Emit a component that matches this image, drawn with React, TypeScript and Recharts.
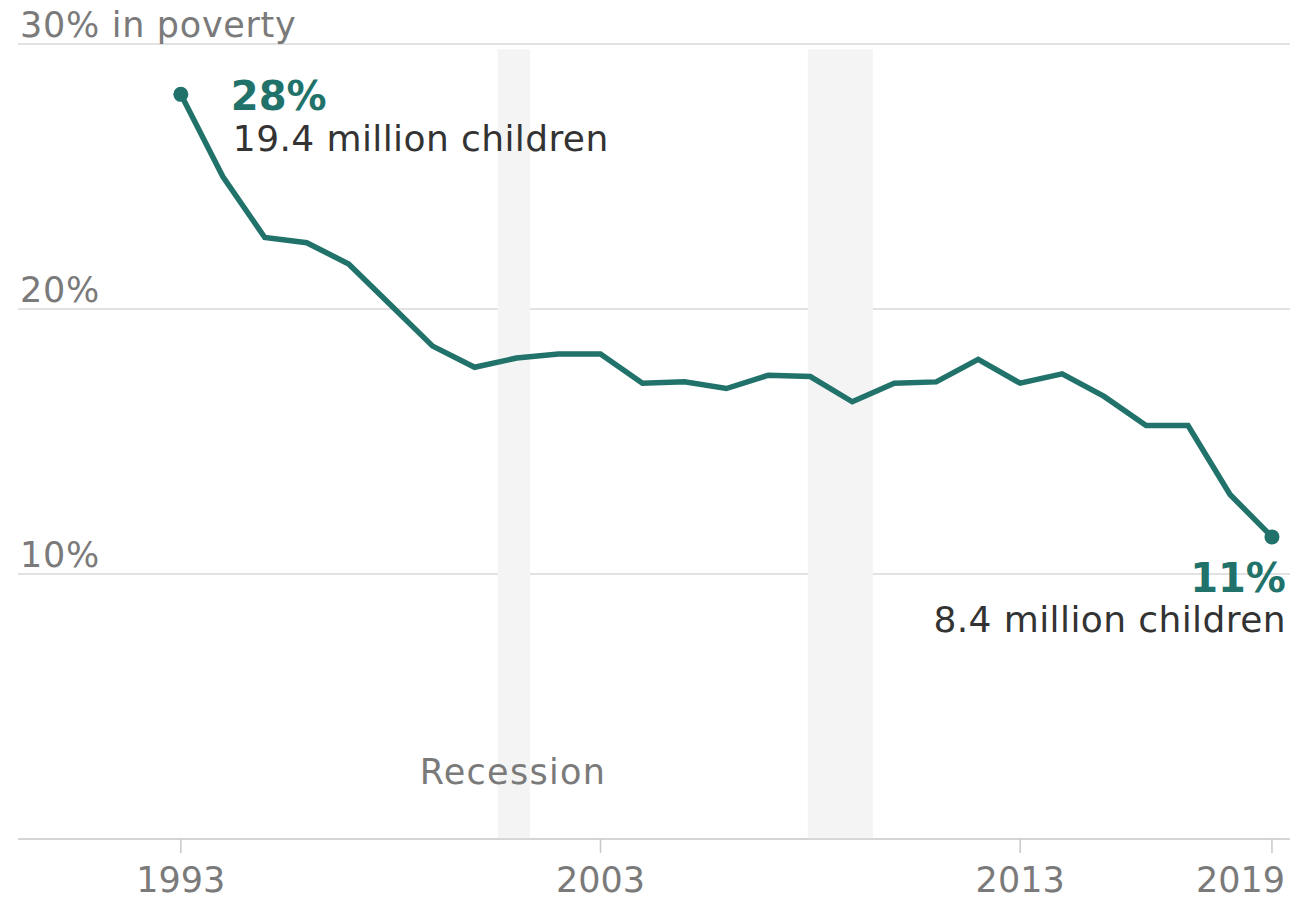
import React from "react";
import {
  LineChart,
  Line,
  XAxis,
  YAxis,
  CartesianGrid,
  ReferenceArea,
} from "recharts";

const years = [
  1993, 1994, 1995, 1996, 1997, 1998, 1999, 2000, 2001, 2002, 2003, 2004, 2005,
  2006, 2007, 2008, 2009, 2010, 2011, 2012, 2013, 2014, 2015, 2016, 2017, 2018,
  2019,
];
const povertyRate = [
  28.1, 25.0, 22.7, 22.5, 21.7, 20.15, 18.6, 17.8, 18.15, 18.3, 18.3, 17.2,
  17.25, 17.0, 17.5, 17.45, 16.5, 17.2, 17.25, 18.1, 17.2, 17.55, 16.7, 15.6,
  15.6, 13.0, 11.4,
];
const xTicks = [1993, 2003, 2013, 2019];
const yTicks = [0, 10, 20, 30];
const yTickLabels: Record<number, string> = {
  0: "",
  10: "10%",
  20: "20%",
  30: "30% in poverty",
};
const recessions = [
  { start: 2000.55, end: 2001.32, label: "Recession" },
  { start: 2007.94, end: 2009.49, label: "" },
];
const firstLabel = { pct: "28%", count: "19.4 million children" };
const lastLabel = { pct: "11%", count: "8.4 million children" };

const data = years.map((year, i) => ({ year, rate: povertyRate[i] }));

const TEAL = "#21726a";
const GRAY = "#7a7a7a";
const FONT = "'DejaVu Sans', sans-serif";

const XTick = (props: any) => {
  const { x, y, payload, index } = props;
  const last = index === xTicks.length - 1;
  return (
    <text
      x={last ? x + 13 : x}
      y={y}
      dy="0.71em"
      textAnchor={last ? "end" : "middle"}
      fill={GRAY}
      fontSize={35}
      fontFamily={FONT}
    >
      {payload.value}
    </text>
  );
};

const YTick = (props: any) => {
  const { x, y, payload } = props;
  return (
    <text
      x={x + 2}
      y={y - 7}
      textAnchor="start"
      fill={GRAY}
      fontSize={35}
      letterSpacing={0.7}
      fontFamily={FONT}
    >
      {yTickLabels[payload.value]}
    </text>
  );
};

const EndDot = (props: any) => {
  const { cx, cy, index } = props;
  if (index !== 0 && index !== data.length - 1) return <g key={index} />;
  return <circle key={index} cx={cx} cy={cy} r={7.5} fill={TEAL} />;
};

const EndLabel = (props: any) => {
  const { x, y, index } = props;
  if (index === 0) {
    return (
      <g key="first">
        <text
          x={x + 50}
          y={y + 16}
          fill={TEAL}
          fontSize={40}
          fontWeight="bold"
          fontFamily={FONT}
        >
          {firstLabel.pct}
        </text>
        <text
          x={x + 52}
          y={y + 57}
          fill="#333"
          fontSize={36}
          letterSpacing={0.4}
          fontFamily={FONT}
        >
          {firstLabel.count}
        </text>
      </g>
    );
  }
  if (index === data.length - 1) {
    return (
      <g key="last">
        <text
          x={x + 14}
          y={y + 55}
          textAnchor="end"
          fill={TEAL}
          fontSize={40}
          fontWeight="bold"
          fontFamily={FONT}
        >
          {lastLabel.pct}
        </text>
        <text
          x={x + 14}
          y={y + 95}
          textAnchor="end"
          fill="#333"
          fontSize={36}
          letterSpacing={0.4}
          fontFamily={FONT}
        >
          {lastLabel.count}
        </text>
      </g>
    );
  }
  return <g key={index} />;
};

const RecessionLabel = (props: any) => {
  const { viewBox, value } = props;
  if (!value || !viewBox) return null;
  return (
    <text
      x={viewBox.x - 78}
      y={viewBox.y + viewBox.height - 55}
      fill={GRAY}
      fontSize={35}
      letterSpacing={1.3}
      fontFamily={FONT}
    >
      {value}
    </text>
  );
};

export default function App() {
  return (
    <div
      style={{
        position: "absolute",
        left: 0,
        top: 0,
        width: 1294,
        height: 900,
        background: "#fff",
      }}
    >
      <LineChart
        width={1294}
        height={900}
        data={data}
        margin={{ top: 44, right: 4, left: 17, bottom: 0 }}
      >
        <CartesianGrid vertical={false} stroke="#d8d8d8" strokeWidth={1.5} />
        {recessions.map((r, i) => (
          <ReferenceArea
            key={i}
            x1={r.start}
            x2={r.end}
            y1={0}
            y2={29.8}
            fill="#f4f4f4"
            fillOpacity={1}
            stroke="none"
            ifOverflow="visible"
            label={<RecessionLabel value={r.label} />}
          />
        ))}
        <XAxis
          dataKey="year"
          type="number"
          domain={[1989.12, 2019.43]}
          ticks={xTicks}
          interval={0}
          axisLine={{ stroke: "#d0d0d0", strokeWidth: 1.5 }}
          tickLine={{ stroke: "#c8c8c8", strokeWidth: 1.5 }}
          tickSize={14}
          tickMargin={14}
          tick={<XTick />}
          height={61}
        />
        <YAxis
          type="number"
          domain={[0, 30]}
          ticks={yTicks}
          width={1}
          axisLine={false}
          tickLine={false}
          tickSize={0}
          tickMargin={0}
          tick={<YTick />}
          interval={0}
        />
        <Line
          type="linear"
          dataKey="rate"
          stroke={TEAL}
          strokeWidth={5.5}
          dot={<EndDot />}
          activeDot={false}
          label={<EndLabel />}
          isAnimationActive={false}
        />
      </LineChart>
    </div>
  );
}
